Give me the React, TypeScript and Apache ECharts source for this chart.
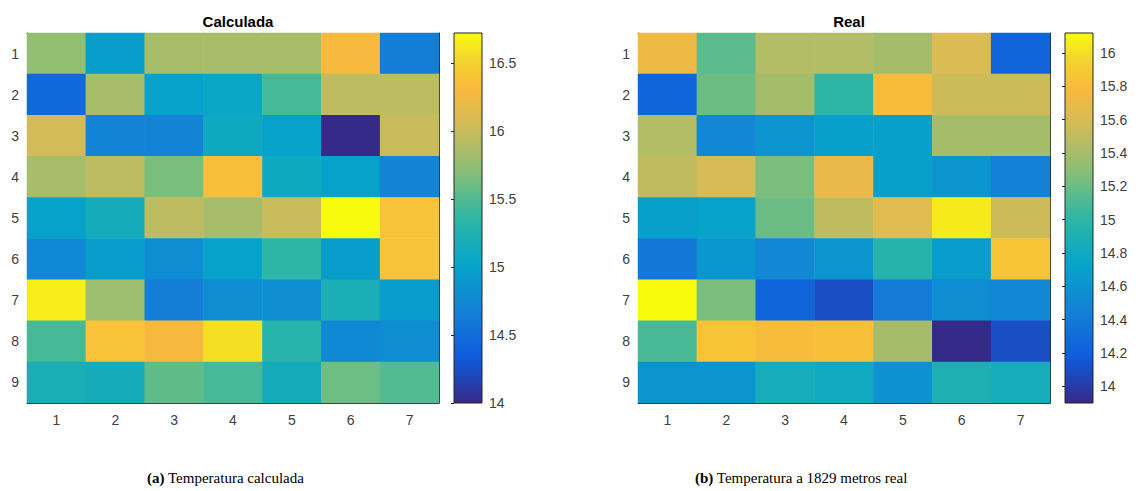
import React, { useEffect, useRef } from "react";
import * as echarts from "echarts";

const cols = ["1", "2", "3", "4", "5", "6", "7"];
const rows = ["1", "2", "3", "4", "5", "6", "7", "8", "9"];

const calculada: number[][] = [
  [15.75, 14.95, 15.85, 15.85, 15.85, 16.3, 14.65],
  [14.45, 15.85, 15.0, 15.05, 15.45, 15.95, 15.95],
  [16.05, 14.7, 14.7, 15.1, 15.0, 14.0, 16.0],
  [15.85, 15.95, 15.65, 16.35, 15.1, 15.0, 14.7],
  [15.0, 15.15, 15.95, 15.85, 16.0, 16.72, 16.38],
  [14.75, 14.95, 14.8, 15.0, 15.35, 14.95, 16.38],
  [16.65, 15.8, 14.65, 14.8, 14.8, 15.2, 14.95],
  [15.45, 16.38, 16.3, 16.58, 15.3, 14.75, 14.8],
  [15.2, 15.15, 15.55, 15.45, 15.15, 15.6, 15.5],
];

const real: number[][] = [
  [15.72, 15.15, 15.45, 15.45, 15.4, 15.62, 14.25],
  [14.25, 15.2, 15.4, 15.0, 15.8, 15.55, 15.55],
  [15.45, 14.5, 14.6, 14.7, 14.7, 15.4, 15.4],
  [15.5, 15.6, 15.25, 15.7, 14.7, 14.6, 14.45],
  [14.7, 14.72, 15.2, 15.5, 15.65, 16.05, 15.55],
  [14.38, 14.62, 14.5, 14.6, 14.95, 14.68, 15.85],
  [16.12, 15.25, 14.25, 14.1, 14.4, 14.55, 14.5],
  [15.1, 15.85, 15.8, 15.82, 15.4, 13.9, 14.1],
  [14.6, 14.6, 14.85, 14.8, 14.58, 14.9, 14.85],
];

const calcRange = [14.0, 16.72];
const realRange = [13.9, 16.12];
const calcTicks = [14, 14.5, 15, 15.5, 16, 16.5];
const realTicks = [14, 14.2, 14.4, 14.6, 14.8, 15, 15.2, 15.4, 15.6, 15.8, 16];

const parulaStops: [number, string][] = [
  [0.0, "#352a87"],
  [0.125, "#0f5cdd"],
  [0.25, "#1481d6"],
  [0.375, "#06a4ca"],
  [0.5, "#2eb7a4"],
  [0.625, "#87bf77"],
  [0.75, "#d1bb59"],
  [0.85, "#f9ba3e"],
  [0.93, "#f3d52c"],
  [1.0, "#f9fb0e"],
];

const toData = (m: number[][]) => {
  const out: number[][] = [];
  m.forEach((row, r) => row.forEach((v, c) => out.push([c, r, v])));
  return out;
};

const FONT = "'Liberation Sans', Arial, sans-serif";
const SERIF = "'Liberation Serif', 'Times New Roman', serif";
const AX = "#262626";
const LBL = "#404040";

export default function App() {
  const ref = useRef<HTMLDivElement>(null);
  useEffect(() => {
    document.body.style.margin = "0";
    const chart = echarts.init(ref.current!, null, { renderer: "svg" });

    const heatGrids = [
      { left: 27, top: 33, width: 412, height: 370 },
      { left: 638, top: 33, width: 412, height: 370 },
    ];
    const barGrids = [
      { left: 454, top: 33, width: 28, height: 370 },
      { left: 1065, top: 33, width: 28, height: 370 },
    ];

    const catX = (gridIndex: number, top: boolean) => ({
      type: "category",
      data: cols,
      gridIndex,
      position: top ? "top" : "bottom",
      axisLine: { show: true, lineStyle: { color: AX, width: 1 } },
      axisTick: { show: true, inside: true, alignWithLabel: true, length: 4, lineStyle: { color: AX } },
      axisLabel: { show: !top, color: LBL, fontSize: 14, fontFamily: FONT, margin: 10 },
      splitLine: { show: false },
    });
    const catY = (gridIndex: number, right: boolean) => ({
      type: "category",
      data: rows,
      inverse: true,
      gridIndex,
      position: right ? "right" : "left",
      axisLine: { show: true, lineStyle: { color: AX, width: 1 } },
      axisTick: { show: true, inside: true, alignWithLabel: true, length: 4, lineStyle: { color: AX } },
      axisLabel: { show: !right, color: LBL, fontSize: 14, fontFamily: FONT, margin: 8 },
      splitLine: { show: false },
    });
    const hidX = (gridIndex: number) => ({
      type: "value",
      gridIndex,
      min: 0,
      max: 1,
      show: false,
    });
    const barY = (gridIndex: number, range: number[], ticks: number[]) => ({
      type: "value",
      gridIndex,
      min: range[0],
      max: range[1],
      position: "right",
      axisLine: { show: false },
      axisTick: { show: true, inside: true, length: 3, lineStyle: { color: AX }, customValues: ticks },
      axisLabel: { show: true, color: LBL, fontSize: 14, fontFamily: FONT, margin: 7, customValues: ticks },
      splitLine: { show: false },
    });

    const gradientBar = (params: any) => {
      const cs = params.coordSys;
      return {
        type: "rect",
        z2: -1,
        shape: { x: cs.x, y: cs.y, width: cs.width, height: cs.height },
        style: {
          fill: new echarts.graphic.LinearGradient(
            0,
            1,
            0,
            0,
            parulaStops.map(([o, c]) => ({ offset: o, color: c }))
          ),
          stroke: AX,
          lineWidth: 1,
        },
      };
    };

    const vmColors = (n: number) => {
      const hex = (s: string) => [1, 3, 5].map((i) => parseInt(s.slice(i, i + 2), 16));
      const out: string[] = [];
      for (let k = 0; k < n; k++) {
        const t = k / (n - 1);
        let j = 0;
        while (j < parulaStops.length - 2 && parulaStops[j + 1][0] < t) j++;
        const [t0, c0] = parulaStops[j];
        const [t1, c1] = parulaStops[j + 1];
        const f = Math.min(1, Math.max(0, (t - t0) / (t1 - t0)));
        const a = hex(c0);
        const b = hex(c1);
        const m = a.map((v, i) => Math.round(v + (b[i] - v) * f));
        out.push(`rgb(${m[0]},${m[1]},${m[2]})`);
      }
      return out;
    };
    const cmap = vmColors(101);

    const option: any = {
      animation: false,
      backgroundColor: "#ffffff",
      title: [
        {
          text: "Calculada",
          left: 233,
          top: 9,
          textAlign: "center",
          textStyle: { fontFamily: FONT, fontSize: 15, fontWeight: "bold", color: "#000" },
        },
        {
          text: "Real",
          left: 844,
          top: 9,
          textAlign: "center",
          textStyle: { fontFamily: FONT, fontSize: 15, fontWeight: "bold", color: "#000" },
        },
      ],
      grid: [heatGrids[0], barGrids[0], heatGrids[1], barGrids[1]],
      xAxis: [catX(0, false), catX(0, true), hidX(1), catX(2, false), catX(2, true), hidX(3)],
      yAxis: [
        catY(0, false),
        catY(0, true),
        barY(1, calcRange, calcTicks),
        catY(2, false),
        catY(2, true),
        barY(3, realRange, realTicks),
      ],
      visualMap: [
        {
          type: "continuous",
          show: false,
          seriesIndex: 0,
          min: calcRange[0],
          max: calcRange[1],
          inRange: { color: cmap },
        },
        {
          type: "continuous",
          show: false,
          seriesIndex: 2,
          min: realRange[0],
          max: realRange[1],
          inRange: { color: cmap },
        },
      ],
      series: [
        {
          type: "heatmap",
          xAxisIndex: 0,
          yAxisIndex: 0,
          data: toData(calculada),
          itemStyle: { borderWidth: 0 },
          emphasis: { disabled: true },
        },
        {
          type: "custom",
          xAxisIndex: 2,
          yAxisIndex: 2,
          data: [[0.5, calcRange[0]]],
          renderItem: gradientBar,
          silent: true,
        },
        {
          type: "heatmap",
          xAxisIndex: 3,
          yAxisIndex: 3,
          data: toData(real),
          itemStyle: { borderWidth: 0 },
          emphasis: { disabled: true },
        },
        {
          type: "custom",
          xAxisIndex: 5,
          yAxisIndex: 5,
          data: [[0.5, realRange[0]]],
          renderItem: gradientBar,
          silent: true,
        },
      ],
      graphic: [
        {
          type: "text",
          left: 147,
          top: 470,
          style: {
            text: "{b|(a)} Temperatura calculada",
            rich: {
              b: { fontWeight: "bold", fontFamily: SERIF, fontSize: 15, fill: "#000" },
            },
            font: `15px ${SERIF}`,
            fill: "#000",
          },
        },
        {
          type: "text",
          left: 695,
          top: 470,
          style: {
            text: "{b|(b)} Temperatura a 1829 metros real",
            rich: {
              b: { fontWeight: "bold", fontFamily: SERIF, fontSize: 15, fill: "#000" },
            },
            font: `15px ${SERIF}`,
            fill: "#000",
          },
        },
      ],
    };
    chart.setOption(option);
    return () => chart.dispose();
  }, []);
  return <div ref={ref} style={{ width: 1141, height: 491 }} />;
}
